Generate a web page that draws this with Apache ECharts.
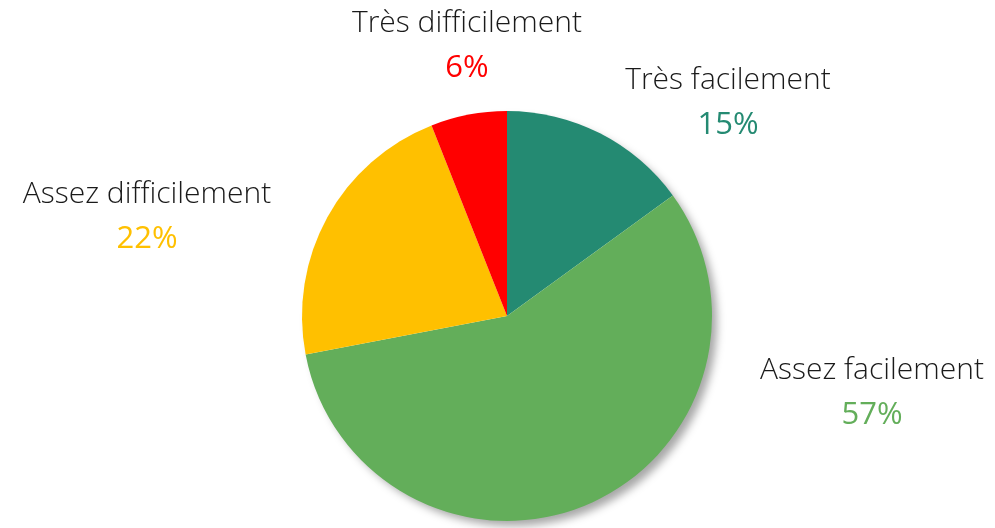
<!DOCTYPE html>
<html>
<head>
<meta charset="utf-8">
<script src="https://cdn.jsdelivr.net/npm/echarts@6/dist/echarts.min.js"></script>
<style>
  html, body { margin: 0; padding: 0; background: #fff; }
  #main { width: 995px; height: 528px; }
</style>
</head>
<body>
<div id="main"></div>
<script>
// données
const categories = ['Très facilement', 'Assez facilement', 'Assez difficilement', 'Très difficilement'];
const values = [15, 57, 22, 6];
const colors = ['#248A72', '#63AE5A', '#FFC000', '#FF0000'];
// position des étiquettes (centre du bloc de texte)
const labelPos = [[728, 103], [872, 393], [147, 217], [467, 46]];

const myChart = echarts.init(document.getElementById('main'));

const option = {
  animation: false,
  series: [
    {
      // disque d'ombre sous le camembert
      type: 'pie',
      center: [507, 316],
      radius: 204,
      silent: true,
      z: 1,
      label: { show: false },
      labelLine: { show: false },
      data: [{
        value: values.reduce((a, b) => a + b, 0),
        itemStyle: {
          color: '#fff',
          shadowColor: 'rgba(0,0,0,0.35)',
          shadowBlur: 8,
          shadowOffsetX: 6,
          shadowOffsetY: 6
        }
      }]
    },
    {
      type: 'pie',
      center: [507, 316],
      radius: 205,
      startAngle: 90,
      clockwise: true,
      silent: true,
      z: 2,
      data: categories.map((name, i) => ({
        name,
        value: values[i],
        itemStyle: { color: colors[i] },
        label: { rich: { p: { color: colors[i] } } }
      })),
      labelLine: { show: false },
      label: {
        show: true,
        position: 'outside',
        formatter: (p) => `{n|${p.name}}\n{p|${p.value}%}`,
        rich: {
          n: { fontFamily: 'Open Sans', fontSize: 30, fontWeight: 300, color: '#1a1a1a', lineHeight: 45, align: 'center' },
          p: { fontFamily: 'Open Sans', fontSize: 31, fontWeight: 400, lineHeight: 45, align: 'center' }
        }
      },
      labelLayout: (params) => ({
        x: labelPos[params.dataIndex][0],
        y: labelPos[params.dataIndex][1],
        align: 'center',
        verticalAlign: 'middle',
        hideOverlap: false
      })
    }
  ]
};

myChart.setOption(option);
</script>
</body>
</html>
